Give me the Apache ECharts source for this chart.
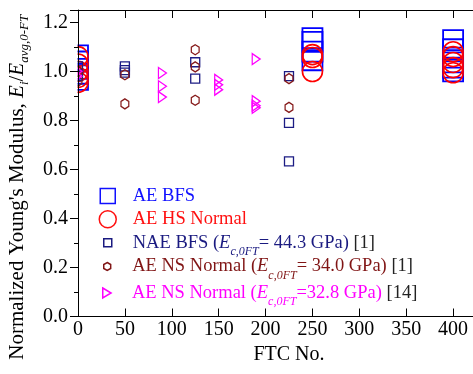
<!DOCTYPE html>
<html>
<head>
<meta charset="utf-8">
<script src="https://cdn.jsdelivr.net/npm/echarts@6/dist/echarts.min.js"></script>
<style>
  html, body { margin: 0; padding: 0; background: #fff; }
  #chart { width: 473px; height: 374px; }
</style>
</head>
<body>
<div id="chart"></div>
<script>
// values (FTC cycles, normalized modulus)
const aeBfsFtc = [0, 0, 0, 0, 0, 250, 250, 250, 250, 400, 400, 400, 400, 400, 400]
const aeBfsE = [1.065, 1.04, 1.01, 0.99, 0.965, 1.135, 1.12, 1.08, 1.045, 1.127, 1.09, 1.056, 1.036, 1.015, 1.0]

const aeHsFtc = [0, 0, 0, 0, 0, 250, 250, 250, 400, 400, 400, 400, 400]
const aeHsE = [1.06, 1.03, 1.0, 0.975, 0.955, 1.068, 1.056, 0.999, 1.08, 1.06, 1.036, 1.015, 0.994]

const naeBfsFtc = [0, 0, 50, 50, 50, 125, 125, 225, 225, 225]
const naeBfsE = [1.02, 0.98, 1.02, 1.005, 0.995, 1.037, 0.97, 0.98, 0.79, 0.633]

const aeNs1Ftc = [0, 0, 50, 50, 125, 125, 125, 225, 225]
const aeNs1E = [1.0, 0.96, 0.986, 0.867, 1.088, 1.018, 0.882, 0.97, 0.853]

const aeNs14Ftc = [0, 0, 90, 90, 90, 150, 150, 150, 190, 190, 190, 190]
const aeNs14E = [1.0, 0.98, 0.993, 0.939, 0.895, 0.965, 0.945, 0.925, 1.05, 0.878, 0.86, 0.851]

const xTickLabels = [0, 50, 100, 150, 200, 250, 300, 350, 400]
const yTickLabels = ['0.0', '0.2', '0.4', '0.6', '0.8', '1.0', '1.2']

const FONT = 'Liberation Serif'
const HEX = 'path://M5 0 L9.33 2.5 L9.33 7.5 L5 10 L0.67 7.5 L0.67 2.5 Z'
const TRI = 'path://M0 0 L10 6 L0 12 Z'
const SQR = 'path://M0 0 L10 0 L10 10 L0 10 Z'

const pairs = (xs, ys) => xs.map((x, i) => [x, ys[i]])

const chart = echarts.init(document.getElementById('chart'))

const makeSeries = (name, xs, ys, symbol, size, color, bw) => ({
  name: name,
  type: 'scatter',
  data: pairs(xs, ys),
  symbol: symbol,
  symbolSize: size,
  symbolKeepAspect: true,
  silent: true,
  itemStyle: { color: 'rgba(0,0,0,0)', borderColor: color, borderWidth: bw, opacity: 1 }
})

const richFor = (color, lh, gap) => ({
  g: { width: gap, lineHeight: lh, fontSize: 1 },
  t: { fontFamily: FONT, fontSize: 18.5, color: color, lineHeight: lh },
  it: { fontFamily: FONT, fontSize: 18.5, fontStyle: 'italic', color: color, lineHeight: lh },
  sub: { fontFamily: FONT, fontSize: 12, fontStyle: 'italic', color: color, lineHeight: 12, verticalAlign: 'bottom' },
  ref: { fontFamily: FONT, fontSize: 18.5, color: '#222', lineHeight: lh }
})

// icon centred at x = 107, text starting near x = 133
const legendRow = (name, top, h, icon, color, text, lh) => ({
  orient: 'vertical',
  left: 107 - h / 2,
  top: top,
  padding: 0,
  itemWidth: h,
  itemHeight: h,
  selectedMode: false,
  data: [{ name: name, icon: icon, itemStyle: { color: 'rgba(0,0,0,0)', borderColor: color, borderWidth: 1.5 } }],
  formatter: () => '{g| }' + text,
  textStyle: { fontFamily: FONT, fontSize: 18.5, color: color, lineHeight: lh, rich: richFor(color, lh, 20 - h / 2) }
})

const axisCommon = {
  axisLine: { show: true, onZero: false, lineStyle: { color: '#000', width: 1 } },
  splitLine: { show: false }
}

const option = {
  animation: false,
  backgroundColor: '#fff',
  grid: { left: 78, top: 10, width: 422, height: 306.5, outerBoundsMode: 'none', containLabel: false },
  xAxis: [
    {
      ...axisCommon,
      type: 'value', min: 0, max: 450, interval: 50, position: 'bottom', z: 100,
      axisTick: { inside: true, length: 8, lineStyle: { color: '#000' } },
      axisLabel: {
        fontFamily: FONT, fontSize: 20, color: '#000', margin: 3, showMaxLabel: false,
        formatter: v => xTickLabels.includes(v) ? String(v) : ''
      },
      name: 'FTC No.', nameLocation: 'middle', nameGap: 28,
      nameTextStyle: { fontFamily: FONT, fontSize: 20, color: '#000' }
    },
    {
      ...axisCommon,
      type: 'value', min: 0, max: 450, interval: 50, position: 'top', z: 100,
      axisTick: { inside: true, length: 8, lineStyle: { color: '#000' } },
      axisLabel: { show: false }
    }
  ],
  yAxis: {
    ...axisCommon,
    type: 'value', min: 0, max: 1.25, interval: 0.2, z: 100,
    axisTick: { length: 8, lineStyle: { color: '#000' } },
    minorTick: { show: true, splitNumber: 2, length: 4, lineStyle: { color: '#000' } },
    axisLabel: {
      fontFamily: FONT, fontSize: 20, color: '#000', margin: 10, showMaxLabel: false,
      formatter: v => {
        const s = v.toFixed(1)
        return yTickLabels.includes(s) && Math.abs(v - parseFloat(s)) < 1e-6 ? s : ''
      }
    },
    name: "Normalized Young's Modulus, {it|E}{sub|i}/{it|E}{sub|avg,0-FT}",
    nameLocation: 'middle',
    nameGap: 47,
    nameTextStyle: {
      fontFamily: FONT, fontSize: 21, color: '#000', lineHeight: 27,
      padding: [0, 48, 0, 0],
      rich: {
        it: { fontFamily: FONT, fontSize: 21, fontStyle: 'italic', color: '#000', lineHeight: 27 },
        sub: { fontFamily: FONT, fontSize: 13, fontStyle: 'italic', color: '#000', lineHeight: 13, verticalAlign: 'bottom' }
      }
    }
  },
  legend: [
    legendRow('AE BFS', 186, 15, SQR, '#1010ff', '{t|AE BFS}', 20),
    legendRow('AE HS Normal', 209.3, 17, 'circle', '#ff1010', '{t|AE HS Normal}', 20),
    legendRow('NAE BFS', 227.7, 8, SQR, '#1a1a80',
      '{t|NAE BFS (}{it|E}{sub|c,0FT}{t|= 44.3 GPa) }{ref|[1]}', 30),
    legendRow('AE NS Normal [1]', 251.5, 8, HEX, '#801515',
      '{t|AE NS Normal (}{it|E}{sub|c,0FT}{t|= 34.0 GPa) }{ref|[1]}', 30),
    legendRow('AE NS Normal [14]', 278, 10, TRI, '#ff00ff',
      '{t|AE NS Normal (}{it|E}{sub|c,0FT}{t|=32.8 GPa) }{ref|[14]}', 30)
  ],
  // white mask left of the y axis so the x = 0 markers look clipped by the frame
  graphic: {
    elements: [
      { type: 'rect', left: 0, top: 0, z: 50, silent: true,
        shape: { width: 77.5, height: 374 }, style: { fill: '#fff' } }
    ]
  },
  series: [
    makeSeries('AE BFS', aeBfsFtc, aeBfsE, 'rect', 20, '#0000ff', 1.8),
    makeSeries('AE HS Normal', aeHsFtc, aeHsE, 'circle', 20, '#ff0000', 1.6),
    makeSeries('NAE BFS', naeBfsFtc, naeBfsE, 'rect', 9, '#1c1c84', 1.3),
    makeSeries('AE NS Normal [1]', aeNs1Ftc, aeNs1E, HEX, [9, 10], '#861a1a', 1.3),
    makeSeries('AE NS Normal [14]', aeNs14Ftc, aeNs14E, TRI, [9.5, 11], '#ff00ff', 1.3)
  ]
}

chart.setOption(option)
</script>
</body>
</html>
